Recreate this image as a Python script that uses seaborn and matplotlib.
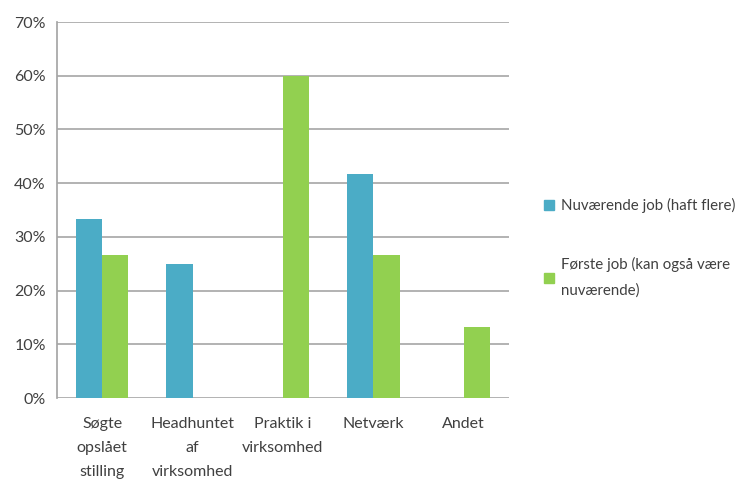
import pandas as pd
import seaborn as sns
import matplotlib.pyplot as plt
from matplotlib.ticker import FuncFormatter

# ── data ──
kategorier = ["Søgte\nopslået\nstilling", "Headhuntet\naf\nvirksomhed",
              "Praktik i\nvirksomhed", "Netværk", "Andet"]
serier     = ["Nuværende job (haft flere)", "Første job (kan også være\nnuværende)"]
nuvaerende = [33.3, 25.0, 0.0, 41.7, 0.0]
foerste    = [26.7, 0.0, 60.0, 26.7, 13.3]
farver     = ["#4BACC6", "#92D050"]

df = pd.DataFrame({
    "kategori": kategorier * 2,
    "serie":    [serier[0]] * len(kategorier) + [serier[1]] * len(kategorier),
    "andel":    nuvaerende + foerste,
})

sns.set_theme(style="white")
plt.rcParams["font.family"] = ["Lato", "DejaVu Sans"]

fig = plt.figure(figsize=(7.52, 4.79), dpi=100)
ax = fig.add_axes([0.0758, 0.169, 0.601, 0.785])

sns.barplot(data=df, x="kategori", y="andel", hue="serie", palette=farver,
            width=0.58, gap=0, saturation=1, linewidth=0, ax=ax, legend=False)

ax.set_ylim(0, 70)
ax.set_yticks(range(0, 71, 10))
ax.yaxis.set_major_formatter(FuncFormatter(lambda v, _: f"{v:.0f}%"))
ax.grid(axis="y", color="#A6A6A6", linewidth=1.2)
ax.set_axisbelow(True)
ax.set_xlabel(""); ax.set_ylabel("")
for s in ["top", "right", "bottom"]:
    ax.spines[s].set_visible(False)
ax.spines["left"].set_color("#A6A6A6")
ax.tick_params(axis="both", length=0, labelsize=11.5, colors="#404040", pad=8)
ax.tick_params(axis="x", pad=14)
for lbl in ax.get_xticklabels():
    lbl.set_linespacing(1.9)

handles = [plt.Rectangle((0, 0), 1, 1, color=c) for c in farver]
leg = fig.legend(handles, serier, loc="center left", bbox_to_anchor=(0.705, 0.482),
                 frameon=False, fontsize=10.8, handlelength=0.7, handleheight=0.7,
                 handletextpad=0.45, labelspacing=2.93, labelcolor="#404040")
for t in leg.get_texts():
    t.set_linespacing(2.0)

fig.savefig("out.png", dpi=100)
